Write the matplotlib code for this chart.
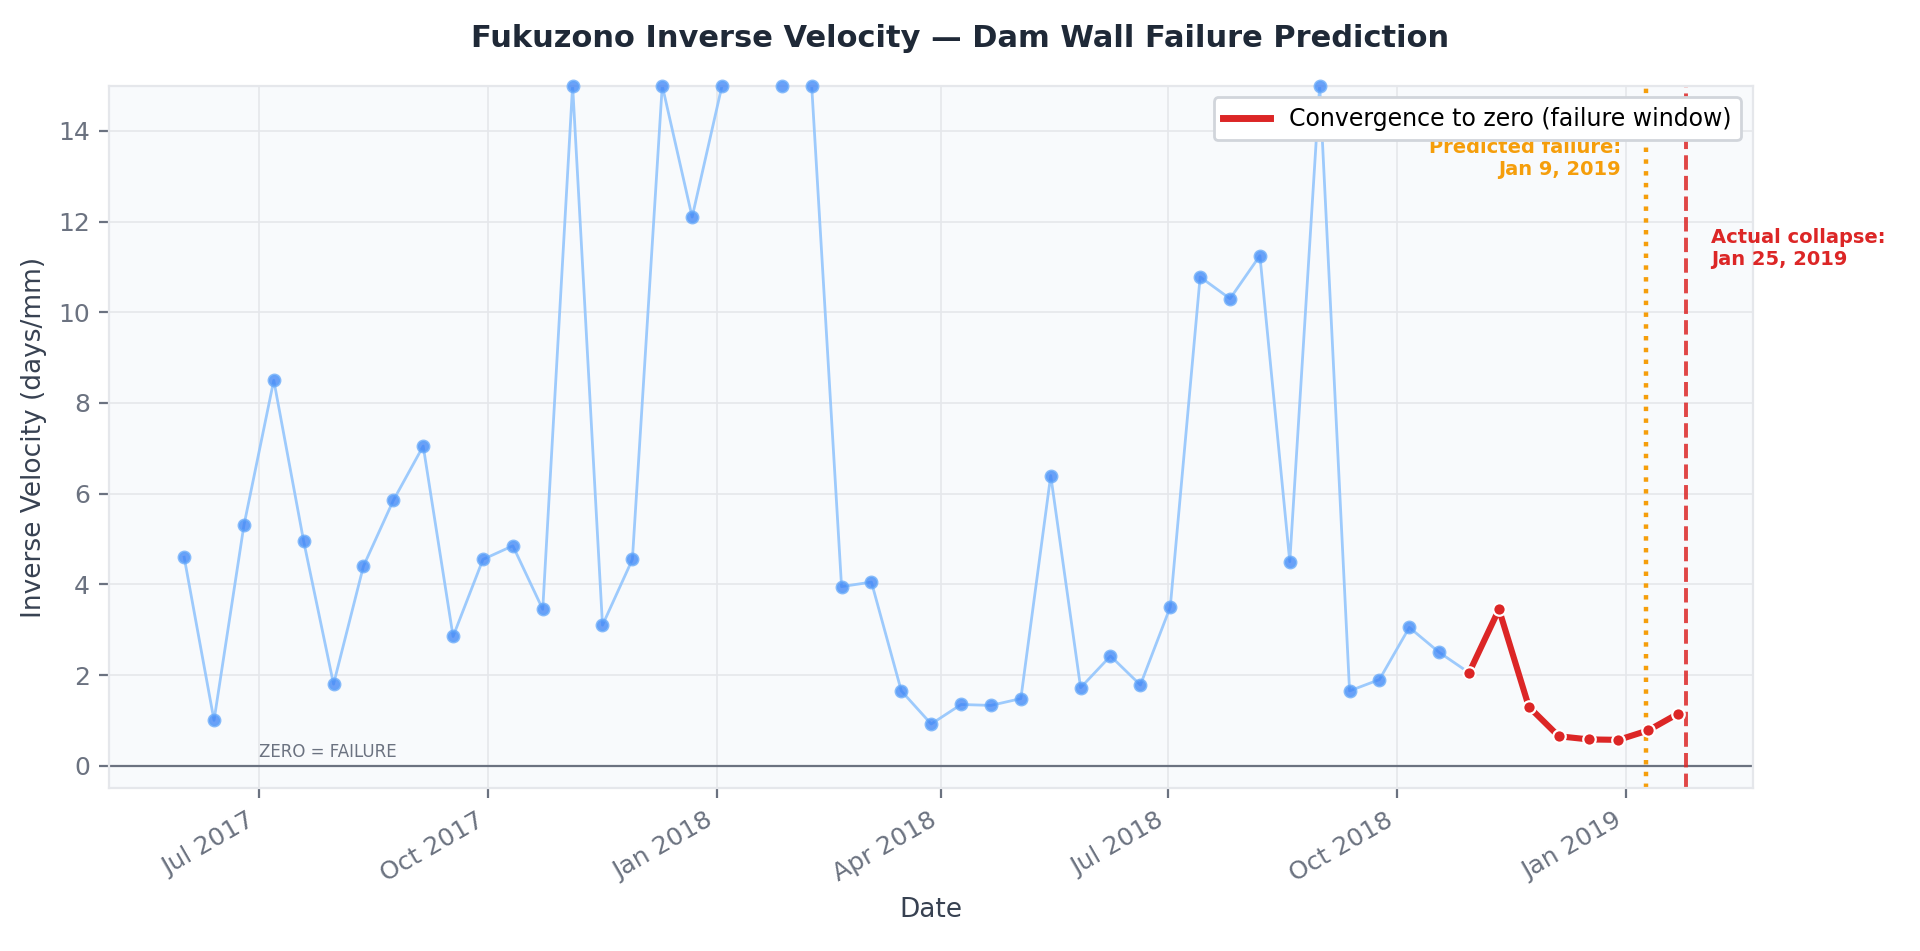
import matplotlib
matplotlib.use("Agg")
import matplotlib.pyplot as plt
import matplotlib.dates as mdates
from matplotlib.lines import Line2D
import numpy as np
import pandas as pd

dates = pd.date_range("2017-06-01", periods=51, freq="12D")
inv_vel = [4.6, 1.0, 5.3, 8.5, 4.95, 1.8, 4.4, 5.85, 7.05, 2.85,
           4.55, 4.85, 3.45, 15, 3.1, 4.55, 15, 12.1, 15, np.nan,
           15, 15, 3.95, 4.05, 1.65, 0.92, 1.35, 1.33, 1.48, 6.4,
           1.72, 2.42, 1.78, 3.5, 10.78, 10.3, 11.25, 4.5, 15, 1.65,
           1.9, 3.05, 2.5, 2.05, 3.45, 1.3, 0.65, 0.58, 0.57, 0.78, 1.15]
conv_start = 43
predicted = pd.Timestamp("2019-01-09")
actual = pd.Timestamp("2019-01-25")

fig = plt.figure(figsize=(9.6, 4.755), dpi=200)
ax = fig.add_axes([0.057, 0.171, 0.856, 0.739])
ax.set_facecolor("#f8fafc")
v = np.array(inv_vel, dtype=float)
ax.plot(dates[:conv_start + 1], v[:conv_start + 1], color="#93c5fd", lw=1, alpha=0.9, zorder=2)
ax.plot(dates[:conv_start + 1], v[:conv_start + 1], "o", ms=4, color="#3b82f6", alpha=0.75,
        markeredgecolor="#60a5fa", zorder=3, clip_on=False)
ax.plot(dates[conv_start:], v[conv_start:], "-o", color="#dc2626", lw=2.2, ms=4.5,
        markeredgecolor="white", markeredgewidth=0.8, zorder=4)
ax.axhline(0, color="#6b7280", lw=0.8)
ax.axvline(predicted, color="#f59e0b", ls=":", lw=1.6)
ax.axvline(actual, color="#dc2626", ls="--", lw=1.4, alpha=0.85)
ax.text(predicted - pd.Timedelta(days=10), 13.4, "Predicted failure:\nJan 9, 2019", color="#f59e0b",
        fontsize=7, fontweight="bold", ha="right", va="center")
ax.text(actual + pd.Timedelta(days=10), 11.4, "Actual collapse:\nJan 25, 2019", color="#dc2626",
        fontsize=7, fontweight="bold", ha="left", va="center", clip_on=False)
ax.text(pd.Timestamp("2017-07-01"), 0.2, "ZERO = FAILURE", color="#6b7280", fontsize=6)
ax.set_ylim(-0.5, 15)
ax.set_xlim(pd.Timestamp("2017-05-02"), pd.Timestamp("2019-02-21"))
ax.xaxis.set_major_locator(mdates.MonthLocator(bymonth=[1, 4, 7, 10]))
ax.xaxis.set_major_formatter(mdates.DateFormatter("%b %Y"))
plt.setp(ax.get_xticklabels(), rotation=30, ha="right")
ax.tick_params(labelsize=9, colors="#6b7280")
ax.grid(color="#e5e7eb", lw=0.6)
for s in ax.spines.values():
    s.set_color("#e5e7eb")
ax.set_xlabel("Date", fontsize=9.5, color="#374151")
ax.set_ylabel("Inverse Velocity (days/mm)", fontsize=9.5, color="#374151")
fig.suptitle("Fukuzono Inverse Velocity — Dam Wall Failure Prediction", fontsize=11,
             fontweight="bold", color="#1f2937", y=0.975)
handle = Line2D([], [], color="#dc2626", lw=2.5)
ax.legend([handle], ["Convergence to zero (failure window)"], loc="upper right",
          fontsize=8.5, framealpha=1, edgecolor="#d1d5db")
fig.savefig("out.png", dpi=200)
